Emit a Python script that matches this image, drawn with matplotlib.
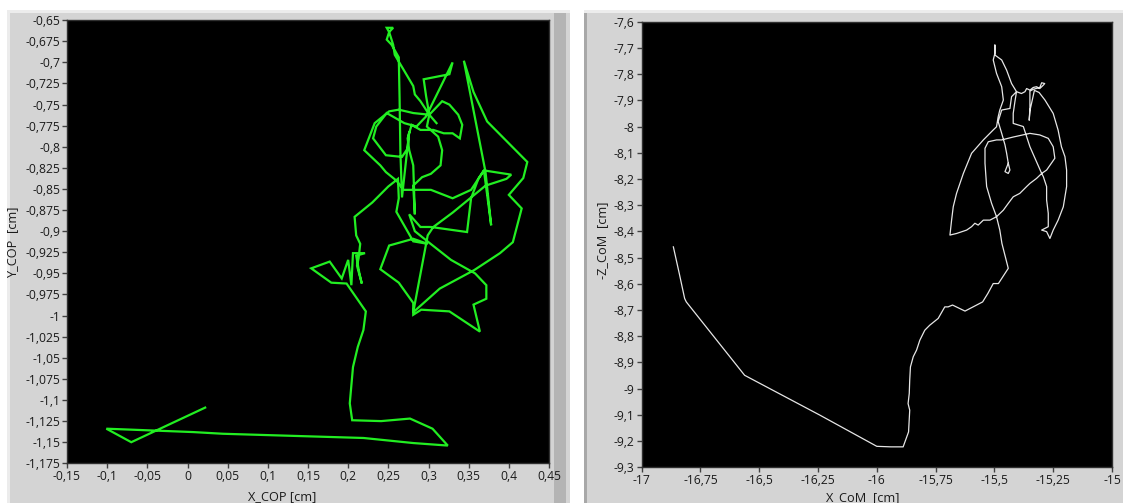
import numpy as np
import matplotlib.pyplot as plt
from matplotlib.patches import Rectangle
from matplotlib.ticker import FixedLocator, FixedFormatter

# centre of pressure trace (left plot)
cop_x = [0.022, -0.070, -0.101, 0.007, 0.044, 0.148, 0.219, 0.281, 0.324, 0.305, 0.277, 0.241, 0.205, 0.202,
         0.206, 0.212, 0.219, 0.222, 0.198,
         0.179, 0.154, 0.177, 0.192, 0.200, 0.204, 0.206, 0.221, 0.210, 0.214, 0.217, 0.211, 0.213,
         0.215, 0.210, 0.208, 0.230, 0.250, 0.262,
         0.263, 0.260, 0.272, 0.281, 0.299,
         0.281, 0.251, 0.240,
         0.263, 0.281, 0.281,
         0.291, 0.326, 0.364, 0.356, 0.372, 0.372, 0.358, 0.328, 0.300, 0.283, 0.276,
         0.290, 0.303, 0.348, 0.353, 0.362, 0.369,
         0.389, 0.403, 0.397, 0.371, 0.330, 0.306, 0.299, 0.281,
         0.314, 0.357, 0.389, 0.405, 0.416, 0.400, 0.418, 0.423, 0.373, 0.356, 0.344,
         0.371, 0.378, 0.372, 0.369, 0.353, 0.330, 0.303, 0.269, 0.260, 0.247, 0.240, 0.220, 0.233, 0.251,
         0.263, 0.281, 0.301, 0.317, 0.326, 0.337, 0.342, 0.339, 0.330, 0.319, 0.306, 0.290, 0.279, 0.274,
         0.276, 0.281, 0.283, 0.281, 0.292, 0.303, 0.315, 0.317, 0.312, 0.298, 0.301, 0.297, 0.294, 0.326,
         0.330, 0.312, 0.297, 0.285, 0.270, 0.248, 0.235, 0.231, 0.247, 0.267, 0.274, 0.276,
         0.267, 0.265, 0.264, 0.263, 0.254, 0.248, 0.251, 0.248, 0.256, 0.251, 0.256, 0.258, 0.281, 0.283,
         0.290, 0.301, 0.310]
cop_y = [-1.109, -1.150, -1.134, -1.138, -1.140, -1.143, -1.145, -1.151, -1.154, -1.134, -1.122, -1.125, -1.124, -1.104,
         -1.061, -1.037, -1.017, -0.995, -0.962,
         -0.961, -0.944, -0.936, -0.956, -0.934, -0.964, -0.926, -0.926, -0.929, -0.950, -0.962, -0.941, -0.932,
         -0.915, -0.905, -0.883, -0.866, -0.847, -0.838,
         -0.861, -0.877, -0.897, -0.912, -0.915,
         -0.909, -0.917, -0.945,
         -0.961, -0.985, -0.999,
         -0.993, -0.995, -1.019, -0.987, -0.980, -0.964, -0.950, -0.934, -0.913, -0.900, -0.880,
         -0.895, -0.895, -0.901, -0.861, -0.838, -0.828,
         -0.831, -0.833, -0.838, -0.846, -0.878, -0.895, -0.905, -0.996,
         -0.968, -0.946, -0.926, -0.913, -0.873, -0.857, -0.837, -0.818, -0.770, -0.735, -0.698,
         -0.830, -0.893, -0.850, -0.828, -0.851, -0.861, -0.851, -0.851, -0.840, -0.830, -0.822, -0.804, -0.772, -0.758,
         -0.756, -0.760, -0.762, -0.746, -0.750, -0.762, -0.774, -0.790, -0.784, -0.784, -0.780, -0.780, -0.774, -0.790,
         -0.804, -0.822, -0.880, -0.846, -0.836, -0.832, -0.822, -0.804, -0.788, -0.776, -0.762, -0.740, -0.720, -0.714,
         -0.700, -0.735, -0.764, -0.776, -0.772, -0.760, -0.776, -0.790, -0.810, -0.812, -0.802, -0.782,
         -0.860, -0.806, -0.742, -0.694, -0.679, -0.673, -0.664, -0.659, -0.659, -0.664, -0.679, -0.691, -0.728, -0.738,
         -0.746, -0.762, -0.772]

# centre of mass trace (right plot)
com_x = [-16.865, -16.840, -16.817, -16.810, -16.562, -16.242, -16.000, -15.940, -15.888, -15.865,
         -15.860, -15.867, -15.862, -15.860, -15.857, -15.845, -15.831, -15.817, -15.796, -15.775,
         -15.739, -15.711, -15.697, -15.678, -15.625, -15.550, -15.528, -15.505, -15.483, -15.441,
         -15.468, -15.477, -15.491, -15.512, -15.533, -15.540, -15.540, -15.526, -15.491, -15.469,
         -15.420, -15.349, -15.307, -15.271, -15.250, -15.243, -15.278, -15.299, -15.321, -15.349,
         -15.363, -15.392, -15.420, -15.441, -15.462, -15.491, -15.519, -15.547, -15.569, -15.583,
         -15.597, -15.618, -15.661, -15.689, -15.682, -15.675, -15.661, -15.632, -15.597, -15.547,
         -15.505, -15.491, -15.484, -15.477, -15.462, -15.469, -15.491, -15.505, -15.498, -15.498,
         -15.498, -15.469, -15.448, -15.427, -15.406, -15.385, -15.370, -15.363, -15.349, -15.335,
         -15.321, -15.307, -15.292, -15.286, -15.299, -15.307, -15.335, -15.349, -15.349, -15.352,
         -15.349, -15.330, -15.310, -15.285, -15.250, -15.229, -15.215, -15.200, -15.193, -15.193,
         -15.207, -15.229, -15.250, -15.264, -15.278, -15.299, -15.271, -15.271, -15.278, -15.278,
         -15.292, -15.299, -15.321, -15.349, -15.377, -15.399, -15.420, -15.420, -15.413, -15.406,
         -15.427, -15.434, -15.469, -15.484, -15.469, -15.455, -15.448, -15.441, -15.455, -15.441,
         -15.434, -15.441]
com_z = [-8.459, -8.560, -8.656, -8.669, -8.949, -9.101, -9.220, -9.222, -9.222, -9.165,
         -9.082, -9.057, -9.018, -8.967, -8.917, -8.878, -8.853, -8.815, -8.777, -8.758,
         -8.732, -8.688, -8.688, -8.681, -8.704, -8.669, -8.637, -8.599, -8.599, -8.541,
         -8.446, -8.395, -8.344, -8.293, -8.229, -8.140, -8.083, -8.058, -8.051, -8.051,
         -8.040, -8.026, -8.032, -8.045, -8.077, -8.121, -8.166, -8.179, -8.198, -8.217,
         -8.229, -8.255, -8.268, -8.293, -8.319, -8.344, -8.357, -8.357, -8.376, -8.369,
         -8.382, -8.395, -8.408, -8.414, -8.357, -8.306, -8.255, -8.179, -8.102, -8.051,
         -8.013, -8.001, -7.963, -7.937, -7.899, -7.848, -7.797, -7.746, -7.721, -7.689,
         -7.727, -7.746, -7.785, -7.836, -7.867, -7.874, -7.867, -7.855, -7.861, -7.851,
         -7.848, -7.855, -7.842, -7.836, -7.833, -7.851, -7.858, -7.865, -7.930, -7.976,
         -7.940, -7.862, -7.870, -7.899, -7.950, -8.014, -8.077, -8.115, -8.166, -8.229,
         -8.306, -8.357, -8.395, -8.427, -8.401, -8.395, -8.382, -8.331, -8.280, -8.229,
         -8.191, -8.179, -8.134, -8.077, -8.000, -7.994, -7.988, -7.950, -7.906, -7.867,
         -7.886, -7.931, -7.937, -7.981, -8.026, -8.070, -8.102, -8.140, -8.172, -8.179,
         -8.166, -8.140]

cop_xticks = np.round(np.arange(-0.15, 0.451, 0.05), 3)
cop_yticks = np.round(np.arange(-1.175, -0.649, 0.025), 3)
com_xticks = np.round(np.arange(-17, -14.99, 0.25), 2)
com_yticks = np.round(np.arange(-9.3, -7.59, 0.1), 1)


def comma(vals):
    return [('%g' % v).replace('.', ',') for v in vals]


def style_axes(ax, xt, yt, xlim, ylim):
    ax.set_facecolor('black')
    ax.set_xlim(*xlim)
    ax.set_ylim(*ylim)
    ax.xaxis.set_major_locator(FixedLocator(xt))
    ax.xaxis.set_major_formatter(FixedFormatter(comma(xt)))
    ax.yaxis.set_major_locator(FixedLocator(yt))
    ax.yaxis.set_major_formatter(FixedFormatter(comma(yt)))
    ax.tick_params(direction='out', length=3.5, width=1, color='#404040', pad=1.5,
                   labelsize=8.7, labelcolor='#1a1a1a')
    for s in ax.spines.values():
        s.set_color('#303030')
        s.set_linewidth(1)


plt.rcParams['font.family'] = ['Open Sans', 'DejaVu Sans']

W, H = 1123, 503
fig = plt.figure(figsize=(W / 100, H / 100), dpi=100)
fig.patch.set_facecolor('white')


def panel_rect(x0, y0, w, h, color):
    fig.patches.append(Rectangle((x0 / W, y0 / H), w / W, h / H, transform=fig.transFigure,
                                 facecolor=color, edgecolor='none', zorder=-5))


# grey LabVIEW-like panels
for x0, x1 in [(7, 570), (584, 1123)]:
    panel_rect(x0, 0, x1 - x0, 493, '#d4d4d4')
    panel_rect(x0, 490, x1 - x0, 3, '#ececec')
    panel_rect(x0, 0, 3, 493, '#ececec')
panel_rect(554, 0, 12, 490, '#b4b4b4')
panel_rect(584, 0, 3, 490, '#a8a8a8')

ax1 = fig.add_axes([67 / W, (H - 463.3) / H, 482 / W, 443.1 / H])
style_axes(ax1, cop_xticks, cop_yticks, (-0.15, 0.45), (-1.175, -0.65))
ax1.plot(cop_x, cop_y, color='#22ee22', lw=1.6, solid_joinstyle='miter')
ax1.set_xlabel('X_COP [cm]', fontsize=9.2, color='#1a1a1a')
ax1.set_ylabel('Y_COP  [cm]', fontsize=9.2, color='#1a1a1a')
ax1.xaxis.set_label_coords(0.446, -0.075)
ax1.xaxis.label.set_verticalalignment('center')
ax1.yaxis.set_label_coords(-0.112, 0.5)
ax1.yaxis.label.set_verticalalignment('center')

ax2 = fig.add_axes([641.6 / W, (H - 467.3) / H, 470.4 / W, 445.6 / H])
style_axes(ax2, com_xticks, com_yticks, (-17, -15), (-9.3, -7.6))
ax2.plot(com_x, com_z, color='#e6e6e6', lw=0.9)
ax2.set_xlabel('X_CoM  [cm]', fontsize=9.2, color='#1a1a1a')
ax2.set_ylabel('-Z_CoM  [cm]', fontsize=9.2, color='#1a1a1a')
ax2.xaxis.set_label_coords(0.47, -0.069)
ax2.xaxis.label.set_verticalalignment('center')
ax2.yaxis.set_label_coords(-0.083, 0.51)
ax2.yaxis.label.set_verticalalignment('center')

fig.savefig('out.png', dpi=100)
